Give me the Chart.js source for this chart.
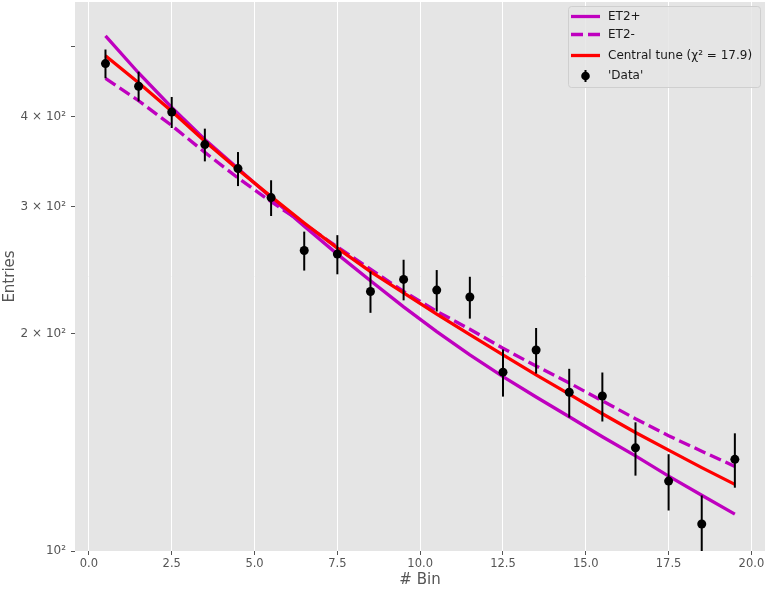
<!DOCTYPE html>
<html><head><meta charset="utf-8">
<script src="https://cdn.jsdelivr.net/npm/chart.js@4.4.1/dist/chart.umd.min.js"></script>
<style>html,body{margin:0;padding:0;background:#fff;}#wrap{width:765px;height:589px;}</style>
</head><body><div id="wrap"><canvas id="c" width="765" height="589"></canvas></div>
<script>
const binCenters = [0.5,1.5,2.5,3.5,4.5,5.5,6.5,7.5,8.5,9.5,10.5,11.5,12.5,13.5,14.5,15.5,16.5,17.5,18.5,19.5];
const dataValues = [474,441,406,366,339,309,261,258,229,238,230,225,177,190,166,164,139,125,109,134];
const dataErrors = [21.8,21.0,20.1,19.1,18.4,17.6,16.2,16.1,15.1,15.4,15.2,15.0,13.3,13.8,12.9,12.8,11.8,11.2,10.4,11.6];
const et2Plus = [518,460,412,372,339,309,282,258,237,218,201.5,187,174.5,163.5,153.5,144,135.5,127,119.5,112.5];
const et2Minus = [452,421,389,357,329,305,284,264,246,229,215,203,191,180.5,171,161.5,152.5,144.5,137.5,131];
const centralTune = [486,446,407,370,338,310,285,263,244,228,213,199.5,187,175.5,165,155,146,138,130.5,123.7];
const xTickValues = [0,2.5,5,7.5,10,12.5,15,17.5,20];
const xTickLabels = ['0.0','2.5','5.0','7.5','10.0','12.5','15.0','17.5','20.0'];
const yTickValues = [100,200,300,400,500];
const yTickLabels = ['10\u00B2','2 \u00D7 10\u00B2','3 \u00D7 10\u00B2','4 \u00D7 10\u00B2',''];
const seriesLabels = ['ET2+','ET2-','Central tune (\u03C7\u00B2 = 17.9)',"'Data'"];
const xTitle = '# Bin';
const yTitle = 'Entries';

const pts = arr => binCenters.map((x,i)=>({x:x, y:arr[i]}));
const FONT = 'DejaVu Sans';

const bgPlugin = {
  id:'bg',
  beforeDraw(chart){
    const {ctx, chartArea:a} = chart;
    ctx.save();
    ctx.fillStyle = '#E5E5E5';
    ctx.fillRect(a.left, a.top, a.right-a.left, a.bottom-a.top);
    ctx.restore();
  }
};

const errorBarPlugin = {
  id:'errorBars',
  beforeDatasetDraw(chart, args){
    if (args.index !== 3) return;
    const {ctx, chartArea:a} = chart;
    const xs = chart.scales.x, ys = chart.scales.y;
    ctx.save();
    ctx.beginPath();
    ctx.rect(a.left, a.top, a.right-a.left, a.bottom-a.top);
    ctx.clip();
    ctx.strokeStyle = '#000';
    ctx.lineWidth = 2;
    binCenters.forEach((b,i)=>{
      const px = xs.getPixelForValue(b);
      ctx.beginPath();
      ctx.moveTo(px, ys.getPixelForValue(dataValues[i]-dataErrors[i]));
      ctx.lineTo(px, ys.getPixelForValue(dataValues[i]+dataErrors[i]));
      ctx.stroke();
    });
    ctx.restore();
  }
};

const legendPlugin = {
  id:'boxLegend',
  afterDraw(chart){
    const ctx = chart.ctx;
    const bx = 568.5, by = 6.5, bw = 192, bh = 81, r = 3;
    ctx.save();
    ctx.beginPath();
    ctx.moveTo(bx+r, by);
    ctx.lineTo(bx+bw-r, by); ctx.arcTo(bx+bw, by, bx+bw, by+r, r);
    ctx.lineTo(bx+bw, by+bh-r); ctx.arcTo(bx+bw, by+bh, bx+bw-r, by+bh, r);
    ctx.lineTo(bx+r, by+bh); ctx.arcTo(bx, by+bh, bx, by+bh-r, r);
    ctx.lineTo(bx, by+r); ctx.arcTo(bx, by, bx+r, by, r);
    ctx.closePath();
    ctx.fillStyle = 'rgba(229,229,229,0.85)';
    ctx.fill();
    ctx.strokeStyle = 'rgba(204,204,204,0.9)';
    ctx.lineWidth = 1;
    ctx.stroke();
    const rows = [16.5, 34.5, 55.5, 76];
    const x0 = 571, x1 = 600, tx = 608;
    ctx.font = '12px "' + FONT + '"';
    ctx.textBaseline = 'middle';
    ctx.textAlign = 'left';
    chart.data.datasets.forEach((ds,i)=>{
      const yy = rows[i];
      if (i < 3) {
        ctx.save();
        ctx.strokeStyle = ds.borderColor;
        ctx.lineWidth = ds.borderWidth;
        ctx.setLineDash(ds.borderDash || []);
        ctx.beginPath(); ctx.moveTo(x0, yy); ctx.lineTo(x1, yy); ctx.stroke();
        ctx.restore();
      } else {
        const cx = (x0+x1)/2;
        ctx.save();
        ctx.strokeStyle = '#000'; ctx.lineWidth = 2;
        ctx.beginPath(); ctx.moveTo(cx, yy-6); ctx.lineTo(cx, yy+6); ctx.stroke();
        ctx.fillStyle = '#000';
        ctx.beginPath(); ctx.arc(cx, yy, 4.3, 0, Math.PI*2); ctx.fill();
        ctx.restore();
      }
      ctx.fillStyle = '#1a1a1a';
      ctx.fillText(ds.label, tx, yy);
    });
    ctx.restore();
  }
};

function zeroPad(s){ s.paddingLeft = 0; s.paddingRight = 0; s.paddingTop = 0; s.paddingBottom = 0; }

new Chart(document.getElementById('c').getContext('2d'), {
  type:'line',
  data:{
    datasets:[
      {label:seriesLabels[0], data:pts(et2Plus), borderColor:'#BF00BF', borderWidth:3.3, pointRadius:0, fill:false, tension:0, order:4},
      {label:seriesLabels[1], data:pts(et2Minus), borderColor:'#BF00BF', borderWidth:3.3, borderDash:[12,5], pointRadius:0, fill:false, tension:0, order:3},
      {label:seriesLabels[2], data:pts(centralTune), borderColor:'#FF0000', borderWidth:3.3, pointRadius:0, fill:false, tension:0, order:2},
      {label:seriesLabels[3], data:pts(dataValues), showLine:false, pointRadius:4.5, pointBackgroundColor:'#000', pointBorderColor:'#000', pointBorderWidth:0, borderColor:'#000', backgroundColor:'#000', order:1}
    ]
  },
  options:{
    responsive:false, animation:false, devicePixelRatio:1,
    layout:{autoPadding:false, padding:{top:2, right:0, left:0, bottom:0}},
    plugins:{legend:{display:false}, tooltip:{enabled:false}},
    scales:{
      x:{
        type:'linear', min:-0.42, max:20.41,
        afterBuildTicks:s=>{ s.ticks = xTickValues.map(v=>({value:v})); },
        afterFit:s=>{ s.height = 38; zeroPad(s); },
        ticks:{autoSkip:false, maxRotation:0, padding:2, color:'#555', font:{family:FONT, size:11.5},
          callback:(v,i)=>xTickLabels[i]},
        grid:{color:'#FFFFFF', lineWidth:1, tickColor:'#555', tickLength:4, tickWidth:1},
        border:{display:false},
        title:{display:true, text:xTitle, color:'#555', font:{family:FONT, size:15}, padding:{top:0,bottom:0}}
      },
      y:{
        type:'logarithmic', min:100, max:577,
        afterBuildTicks:s=>{ s.ticks = yTickValues.map(v=>({value:v})); },
        afterFit:s=>{ s.width = 75; zeroPad(s); },
        ticks:{autoSkip:false, padding:5, color:'#555', font:{family:FONT, size:12},
          callback:(v,i)=>yTickLabels[i]},
        grid:{drawOnChartArea:false, tickColor:'#555', tickLength:4, tickWidth:1},
        border:{display:false},
        title:{display:true, text:yTitle, color:'#555', font:{family:FONT, size:15}, padding:{top:1,bottom:0}}
      }
    }
  },
  plugins:[bgPlugin, errorBarPlugin, legendPlugin]
});
</script></body></html>
